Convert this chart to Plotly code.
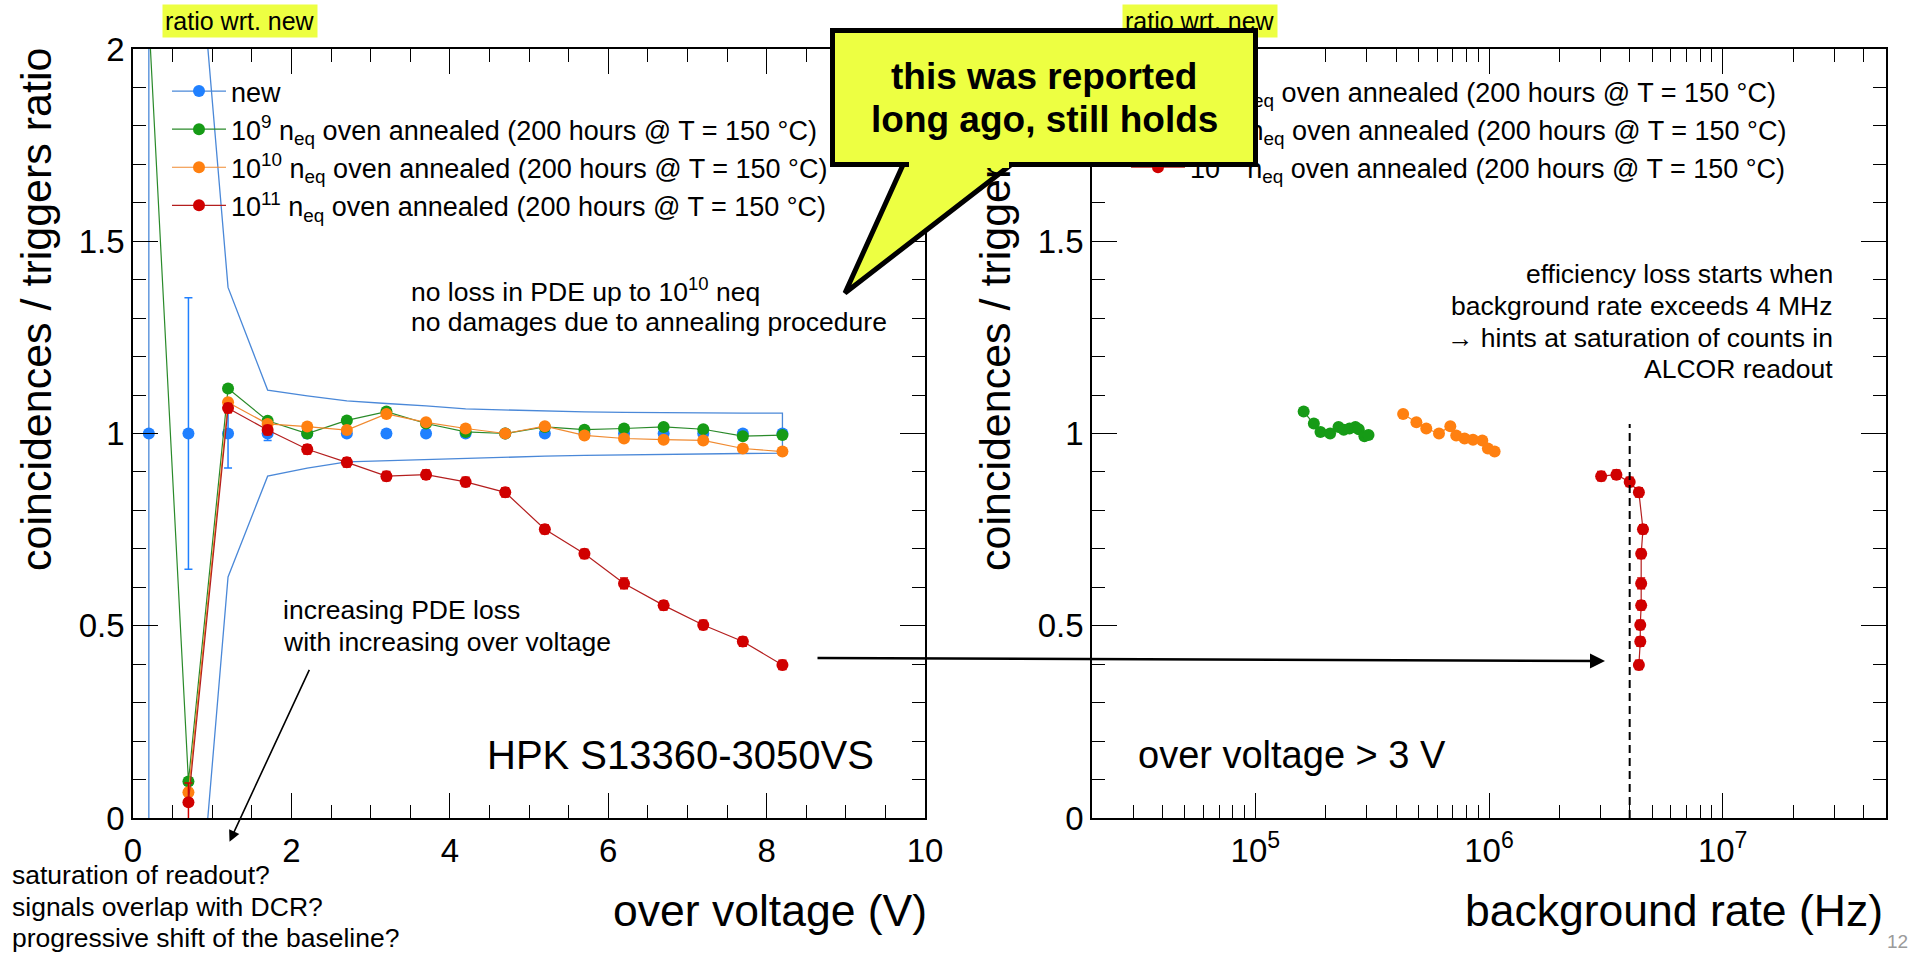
import numpy as np
import plotly.graph_objects as go

W, H = 1915, 954
FONT = "Liberation Sans, Arial, sans-serif"
YELLOW = "#EDFF42"

# ------------------------------------------------------------------ data
over_voltage = [0.2, 0.7, 1.2, 1.7, 2.2, 2.7, 3.2, 3.7, 4.2, 4.7, 5.2, 5.7, 6.2, 6.7, 7.2, 7.7, 8.2]

new_ratio = [1.0, 1.0, 1.0, 1.0, 1.0, 1.0, 1.0, 1.0, 1.0, 1.0, 1.0, 1.0, 1.0, 1.0, 1.0, 1.0, 1.0]
new_err = [0.0, 0.353, 0.09, 0.018, 0.012, 0.01, 0.01, 0.01, 0.01, 0.01, 0.01, 0.01, 0.01, 0.01, 0.01, 0.01, 0.01]

band_upper = [8.0, 2.6, 1.38, 1.113, 1.098, 1.085, 1.078, 1.072, 1.064, 1.061, 1.058, 1.056, 1.055, 1.054, 1.053, 1.053, 1.053]
band_lower = [-6.0, -0.6, 0.627, 0.889, 0.91, 0.926, 0.93, 0.933, 0.935, 0.938, 0.941, 0.943, 0.945, 0.946, 0.947, 0.948, 0.949]

ratio_1e9 = [2.08, 0.095, 1.117, 1.033, 1.0, 1.034, 1.057, 1.026, 1.004, 1.0, 1.017, 1.01, 1.013, 1.017, 1.011, 0.993, 0.996]
err_1e9 = [0.0, 0.01, 0.01, 0.008, 0.008, 0.008, 0.008, 0.008, 0.008, 0.008, 0.008, 0.008, 0.008, 0.008, 0.008, 0.008, 0.008]

ratio_1e10 = [None, 0.067, 1.081, 1.025, 1.018, 1.009, 1.051, 1.029, 1.013, 1.0, 1.019, 0.995, 0.987, 0.984, 0.982, 0.961, 0.953]
err_1e10 = [0.0, 0.01, 0.01, 0.008, 0.008, 0.008, 0.008, 0.008, 0.008, 0.008, 0.008, 0.008, 0.008, 0.008, 0.008, 0.008, 0.008]

ratio_1e11 = [None, 0.041, 1.066, 1.009, 0.959, 0.925, 0.889, 0.893, 0.874, 0.847, 0.751, 0.687, 0.61, 0.553, 0.502, 0.459, 0.398]
err_1e11 = [0.0, 0.05, 0.012, 0.012, 0.012, 0.012, 0.012, 0.012, 0.012, 0.012, 0.012, 0.012, 0.014, 0.012, 0.012, 0.012, 0.012]

# background rate (Hz) measured for the points with over voltage > 3 V
bg_rate_1e9 = [1.61e5, 1.78e5, 1.90e5, 2.09e5, 2.27e5, 2.39e5, 2.53e5, 2.68e5, 2.77e5, 2.93e5, 3.05e5]
bg_rate_1e10 = [4.29e5, 4.89e5, 5.39e5, 6.11e5, 6.83e5, 7.24e5, 7.86e5, 8.54e5, 9.36e5, 9.89e5, 1.057e6]
bg_rate_1e11 = [3.02e6, 3.51e6, 4.0e6, 4.38e6, 4.56e6, 4.48e6, 4.48e6, 4.48e6, 4.44e6, 4.44e6, 4.38e6]
rate_threshold = 4.0e6

x_ticks_left = [0, 2, 4, 6, 8, 10]
y_ticks = [0, 0.5, 1, 1.5, 2]
y_ticktext = ["0", "0.5", "1", "1.5", "2"]
x_ticks_right = [1e5, 1e6, 1e7]
x_ticktext_right = ["10<sup>5</sup>", "10<sup>6</sup>", "10<sup>7</sup>"]

labels = {
    "new": "new",
    "1e9": "10<sup>9</sup> n<sub>eq</sub> oven annealed (200 hours @ T = 150 \u00b0C)",
    "1e10": "10<sup>10</sup> n<sub>eq</sub> oven annealed (200 hours @ T = 150 \u00b0C)",
    "1e11": "10<sup>11</sup> n<sub>eq</sub> oven annealed (200 hours @ T = 150 \u00b0C)",
}

C_BLUE, C_BAND = "#2080ff", "#4a88d8"
C_GREEN, C_GREEN_L = "#169b16", "#2a8a2a"
C_ORANGE, C_ORANGE_L = "#ff8010", "#f08a30"
C_RED, C_RED_L = "#d00000", "#b41e1e"
MSIZE = 12

# ------------------------------------------------------------------ helpers
def px(x):
    return x / W


def py(y):
    return 1 - y / H


high_ov = [i for i, v in enumerate(over_voltage) if v > 3]

fig = go.Figure()

# error band of the reference ("new") sample
band_x = over_voltage + over_voltage[::-1] + [over_voltage[0]]
band_y = band_upper + band_lower[::-1] + [band_upper[0]]
fig.add_trace(go.Scatter(x=band_x, y=band_y, mode="lines", line=dict(color=C_BAND, width=1.3),
                         showlegend=False, hoverinfo="skip", xaxis="x", yaxis="y"))

# "new" points: isolated markers (gaps keep them unconnected; legend shows line+marker)
nx, ny, ne = [], [], []
for xv, yv, ev in zip(over_voltage, new_ratio, new_err):
    nx += [xv, None]
    ny += [yv, None]
    ne += [ev, 0]
fig.add_trace(go.Scatter(x=nx, y=ny, mode="lines+markers", name=labels["new"],
                         line=dict(color=C_BAND, width=1.3),
                         marker=dict(color=C_BLUE, size=MSIZE),
                         error_y=dict(type="data", array=ne, color=C_BLUE, thickness=1.5, width=4),
                         legend="legend", xaxis="x", yaxis="y"))

series = [
    ("1e9", ratio_1e9, err_1e9, bg_rate_1e9, C_GREEN, C_GREEN_L),
    ("1e10", ratio_1e10, err_1e10, bg_rate_1e10, C_ORANGE, C_ORANGE_L),
    ("1e11", ratio_1e11, err_1e11, bg_rate_1e11, C_RED, C_RED_L),
]
for key, vals, errs, rate, cm, cl in series:
    fig.add_trace(go.Scatter(x=over_voltage, y=vals, mode="lines+markers", name=labels[key],
                             line=dict(color=cl, width=1.2), marker=dict(color=cm, size=MSIZE),
                             error_y=dict(type="data", array=errs, color=cm, thickness=1.5, width=4),
                             connectgaps=False, legend="legend", xaxis="x", yaxis="y"))

for key, vals, errs, rate, cm, cl in series:
    fig.add_trace(go.Scatter(x=rate, y=[vals[i] for i in high_ov], mode="lines+markers",
                             name=labels[key],
                             line=dict(color=cl, width=1.2), marker=dict(color=cm, size=MSIZE),
                             error_y=dict(type="data", array=[errs[i] for i in high_ov], color=cm,
                                          thickness=1.5, width=4),
                             legend="legend2", xaxis="x2", yaxis="y2"))

# 4 MHz threshold line
fig.add_trace(go.Scatter(x=[rate_threshold, rate_threshold], y=[0, 1.025], mode="lines",
                         line=dict(color="black", width=2, dash="8px,5px"),
                         showlegend=False, hoverinfo="skip", xaxis="x2", yaxis="y2"))

# ------------------------------------------------------------------ axes
tickfont = dict(family=FONT, size=33, color="black")
common = dict(showgrid=False, zeroline=False, showline=True, linecolor="black", linewidth=1.5,
              mirror="ticks", ticks="inside", ticklen=25, tickwidth=1.3, tickcolor="black",
              tickfont=tickfont, automargin=False)

xl0, xl1 = 133, 925
xr0, xr1 = 1092, 1886
yt, yb = 49, 818

minor_log = [m * 10 ** e for e in (4, 5, 6, 7) for m in range(2, 10) if 2e4 < m * 10 ** e < 5e7]

legend_style = dict(xanchor="left", yanchor="top", bgcolor="rgba(0,0,0,0)", borderwidth=0,
                    font=dict(family=FONT, size=27, color="black"), tracegroupgap=0,
                    itemwidth=54)

fig.update_layout(
    width=W, height=H, template="none",
    margin=dict(l=0, r=0, t=0, b=0, pad=0),
    paper_bgcolor="white", plot_bgcolor="white",
    font=dict(family=FONT, color="black"),
    xaxis=dict(domain=[px(xl0), px(xl1)], anchor="y", range=[0, 10], tickmode="array",
               tickvals=x_ticks_left, ticktext=[str(v) for v in x_ticks_left],
               minor=dict(ticks="inside", ticklen=13, dtick=0.5, tick0=0, tickwidth=1.3,
                          tickcolor="black", showgrid=False),
               ticklabelstandoff=3, **common),
    yaxis=dict(domain=[py(yb), py(yt)], anchor="x", range=[0, 2], tickmode="array",
               tickvals=y_ticks, ticktext=y_ticktext,
               minor=dict(ticks="inside", ticklen=13, dtick=0.1, tick0=0, tickwidth=1.3,
                          tickcolor="black", showgrid=False),
               ticklabelstandoff=0, **common),
    xaxis2=dict(domain=[px(xr0), px(xr1)], anchor="y2", type="log",
                range=[np.log10(2e4), np.log10(5e7)], tickmode="array",
                tickvals=x_ticks_right, ticktext=x_ticktext_right,
                minor=dict(ticks="inside", ticklen=13, tickmode="array", tickvals=minor_log,
                           tickwidth=1.3, tickcolor="black", showgrid=False),
                ticklabelstandoff=3, **common),
    yaxis2=dict(domain=[py(yb), py(yt)], anchor="x2", range=[0, 2], tickmode="array",
                tickvals=y_ticks, ticktext=y_ticktext,
                minor=dict(ticks="inside", ticklen=13, dtick=0.1, tick0=0, tickwidth=1.3,
                           tickcolor="black", showgrid=False),
                ticklabelstandoff=0, **common),
    legend=dict(x=px(167), y=py(67), **legend_style),
    legend2=dict(x=px(1126), y=py(67), **legend_style),
)

# ------------------------------------------------------------------ annotations


def txt(s, x, y, size=26.5, xanchor="left", yanchor="middle", color="black", family=FONT, **kw):
    return dict(text=s, x=px(x), y=py(y), xref="paper", yref="paper", showarrow=False,
                xanchor=xanchor, yanchor=yanchor, font=dict(family=family, size=size, color=color), **kw)


ann = []
# highlighted labels
ann.append(txt("ratio wrt. new", 240, 21.5, size=25, xanchor="center", bgcolor=YELLOW, borderpad=2))
ann.append(txt("ratio wrt. new", 1199.5, 21.5, size=25, xanchor="center", bgcolor=YELLOW, borderpad=2))
# axis titles
ytitle = "coincidences / triggers ratio"
ann.append(txt(ytitle, 36, 310, size=43, xanchor="center", textangle=-90))
ann.append(txt(ytitle, 995, 310, size=43, xanchor="center", textangle=-90))
ann.append(txt("over voltage (V)", 929, 910, size=44.5, xanchor="right"))
ann.append(txt("background rate (Hz)", 1885, 910, size=44.5, xanchor="right"))
# in-plot labels
ann.append(txt("HPK S13360-3050VS", 876, 755, size=40, xanchor="right"))
ann.append(txt("over voltage &gt; 3 V", 1136, 755, size=38))
ann.append(txt("no loss in PDE up to 10<sup>10</sup> neq", 409, 290))
ann.append(txt("no damages due to annealing procedure", 409, 322))
ann.append(txt("increasing PDE loss", 281, 610))
ann.append(txt("with increasing over voltage", 281, 642))
ann.append(txt("saturation of readout?", 10, 875))
ann.append(txt("signals overlap with DCR?", 10, 907))
ann.append(txt("progressive shift of the baseline?", 10, 938))
ann.append(txt("efficiency loss starts when", 1835, 274, xanchor="right"))
ann.append(txt("background rate exceeds 4 MHz", 1835, 306, xanchor="right"))
ann.append(txt("\u2192 hints at saturation of counts in", 1835, 338, xanchor="right"))
ann.append(txt("ALCOR readout", 1835, 369, xanchor="right"))
ann.append(txt("12", 1897, 941, size=19, xanchor="center", color="#9a9a9a", borderpad=0))

# arrows
ann.append(dict(x=px(229.5), y=py(841.7), xref="paper", yref="paper", text="", showarrow=True,
                ax=310 - 229.5, ay=668.3 - 841.7, arrowhead=2, arrowsize=1.4, arrowwidth=1.6,
                arrowcolor="black", standoff=0))
ann.append(dict(x=px(1605), y=py(661), xref="paper", yref="paper", text="", showarrow=True,
                ax=816 - 1605, ay=658 - 661, arrowhead=2, arrowsize=1.2, arrowwidth=2.5,
                arrowcolor="black", standoff=0))

# callout box (drawn last so it covers the legend / titles underneath)
ann.append(dict(text=" ", x=px(1044), y=py(97.5),
                xref="paper", yref="paper", showarrow=False, xanchor="center", yanchor="middle",
                width=418, height=129, bgcolor=YELLOW, bordercolor="black", borderwidth=5,
                borderpad=0))
ann.append(dict(text=" ", x=px(959), y=py(164.5), xref="paper", yref="paper", showarrow=False,
                xanchor="center", yanchor="middle", width=100, height=7, bgcolor=YELLOW,
                borderwidth=0, borderpad=0))
ann.append(txt("<b>this was reported</b>", 1044, 76, size=37, xanchor="center"))
ann.append(txt("<b>long ago, still holds</b>", 1044, 120, size=37, xanchor="center"))

fig.update_layout(annotations=ann)

# pointer of the callout
fig.add_shape(type="path", xref="paper", yref="paper", layer="above",
              path=f"M {px(905.2)},{py(160)} L {px(845)},{py(293)} L {px(1017)},{py(160)}",
              fillcolor=YELLOW, line=dict(color="black", width=5))

fig.write_html("out.html")
